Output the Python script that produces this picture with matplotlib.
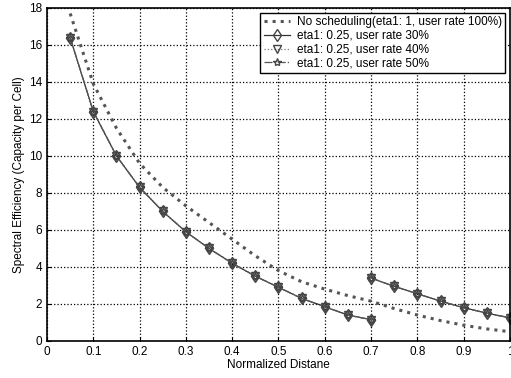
import numpy as np
import matplotlib
matplotlib.use("Agg")
import matplotlib.pyplot as plt

plt.rcParams['font.family'] = ['Liberation Sans', 'DejaVu Sans']

# no scheduling curve (eta1 = 1)
dist_full = [0.05, 0.1, 0.15, 0.2, 0.25, 0.3, 0.35, 0.4, 0.45, 0.5,
             0.55, 0.6, 0.65, 0.7, 0.75, 0.8, 0.85, 0.9, 0.95, 1.0]
se_full = [17.7, 13.9, 11.5, 9.6, 8.3, 7.3, 6.4, 5.5, 4.6, 3.8,
           3.2, 2.8, 2.45, 2.15, 1.75, 1.4, 1.1, 0.85, 0.65, 0.5]

# eta1 = 0.25 (inner part, then outer part after the switch at 0.7)
dist_in = [0.05, 0.1, 0.15, 0.2, 0.25, 0.3, 0.35, 0.4, 0.45, 0.5,
           0.55, 0.6, 0.65, 0.7]
se_in = [16.4, 12.4, 10.0, 8.3, 7.0, 5.9, 5.0, 4.2, 3.5, 2.9,
         2.3, 1.85, 1.4, 1.15]
dist_out = [0.7, 0.75, 0.8, 0.85, 0.9, 0.95, 1.0]
se_out = [3.4, 2.95, 2.55, 2.15, 1.8, 1.5, 1.25]

labels = ['No scheduling(eta1: 1, user rate 100%)',
          'eta1: 0.25, user rate 30%',
          'eta1: 0.25, user rate 40%',
          'eta1: 0.25, user rate 50%']

fig = plt.figure(figsize=(5.11, 3.78), dpi=100)
ax = fig.add_axes([0.092, 0.098, 0.906, 0.881])

ax.plot(dist_full, se_full, ':', color='#555555', lw=2.2, label=labels[0])

styles = [('-', 'd', '#333333'), (':', 'v', '#777777'), ('-.', '*', '#555555')]
for lab, (ls, mk, c) in zip(labels[1:], styles):
    ax.plot(dist_in, se_in, ls, color=c, lw=0.9, marker=mk, ms=6,
            mfc='none', mec='#444444', mew=1.0, label=lab)
    ax.plot(dist_out, se_out, ls, color=c, lw=0.9, marker=mk, ms=6,
            mfc='none', mec='#444444', mew=1.0)

ax.set_xlim(0, 1)
ax.set_ylim(0, 18)
ax.set_xticks(np.arange(0, 1.01, 0.1))
ax.set_xticklabels(['0', '0.1', '0.2', '0.3', '0.4', '0.5', '0.6', '0.7', '0.8', '0.9', '1'])
ax.set_yticks(range(0, 19, 2))
ax.tick_params(direction='in', labelsize=8.5, length=3, width=0.8)
ax.grid(True, linestyle=':', color='black', lw=0.9)
for sp in ax.spines.values():
    sp.set_linewidth(1.2)

ax.set_xlabel('Normalized Distane', fontsize=8.5, labelpad=1)
ax.set_ylabel('Spectral Efficiency (Capacity per Cell)', fontsize=8.5, labelpad=3)

leg = ax.legend(loc='upper right', fontsize=8.5, fancybox=False, framealpha=1,
                edgecolor='black', borderaxespad=0.4, handlelength=2.2,
                borderpad=0.3, labelspacing=0.15, handletextpad=0.6)
leg.get_frame().set_linewidth(1.0)

fig.savefig('out.png', dpi=100)
